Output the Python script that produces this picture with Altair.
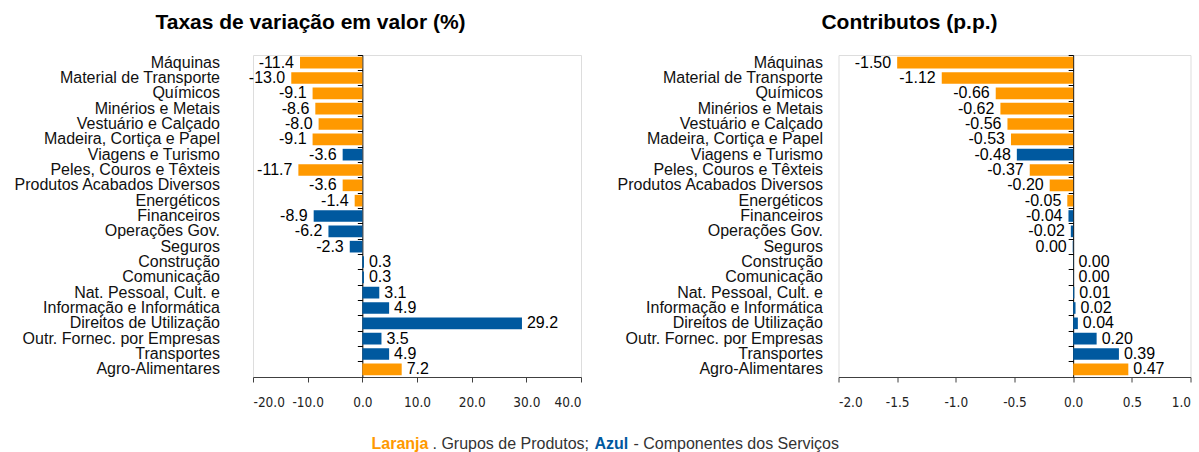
import altair as alt
import pandas as pd

categorias = [
    "Máquinas", "Material de Transporte", "Químicos", "Minérios e Metais",
    "Vestuário e Calçado", "Madeira, Cortiça e Papel", "Viagens e Turismo",
    "Peles, Couros e Têxteis", "Produtos Acabados Diversos", "Energéticos",
    "Financeiros", "Operações Gov.", "Seguros", "Construção", "Comunicação",
    "Nat. Pessoal, Cult. e", "Informação e Informática", "Direitos de Utilização",
    "Outr. Fornec. por Empresas", "Transportes", "Agro-Alimentares",
]
grupo = [
    "Produtos", "Produtos", "Produtos", "Produtos", "Produtos", "Produtos", "Serviços",
    "Produtos", "Produtos", "Produtos", "Serviços", "Serviços", "Serviços", "Serviços",
    "Serviços", "Serviços", "Serviços", "Serviços", "Serviços", "Serviços", "Produtos",
]
taxas = [-11.4, -13.0, -9.1, -8.6, -8.0, -9.1, -3.6, -11.7, -3.6, -1.4,
         -8.9, -6.2, -2.3, 0.3, 0.3, 3.1, 4.9, 29.2, 3.5, 4.9, 7.2]
contributos = [-1.50, -1.12, -0.66, -0.62, -0.56, -0.53, -0.48, -0.37, -0.20, -0.05,
               -0.04, -0.02, -0.004, 0.002, 0.002, 0.01, 0.02, 0.04, 0.20, 0.39, 0.47]
eixo_taxas = [-20, -10, 0, 10, 20, 30, 40]
eixo_contrib = [-2.0, -1.5, -1.0, -0.5, 0.0, 0.5, 1.0]
legenda_partes = ["Laranja", ". Grupos de Produtos;", "Azul", "- Componentes dos Serviços"]
titulos = ["Taxas de variação em valor (%)", "Contributos (p.p.)"]

df = pd.DataFrame({"cat": categorias, "tipo": grupo, "taxa": taxas, "contrib": contributos})

ORANGE = "#FF9900"
BLUE = "#00599F"
FONT = "Liberation Sans"
TICK_FONT = "DejaVu Sans Condensed"
H = 322


def panel(field, fmt, dom, ticks, width, title, title_dx, label_pad, extra=()):
    zero_offset = -(0 - dom[0]) / (dom[1] - dom[0]) * width
    x_enc = alt.X(
        f"{field}:Q",
        scale=alt.Scale(domain=dom, nice=False, zero=False),
        axis=alt.Axis(values=ticks, format=".1f", title=None, grid=False,
                      domainColor="#404040", tickColor="#404040", tickSize=5,
                      labelFont=TICK_FONT, labelFontSize=13.5, labelColor="#222222",
                      labelPadding=13, labelOverlap=False),
    )

    def y_enc(axis):
        return alt.Y("cat:N", sort=categorias,
                     scale=alt.Scale(paddingInner=0, paddingOuter=0), axis=axis)

    label_axis = alt.Axis(orient="left", title=None, domain=False, ticks=False,
                          labelPadding=label_pad, labelFont=FONT, labelFontSize=16,
                          labelColor="#111111", labelLimit=0, grid=False)
    zero_axis = alt.Axis(orient="left", title=None, labels=False, domain=True,
                         domainColor="black", ticks=True, tickColor="black",
                         tickSize=5, bandPosition=0, offset=zero_offset, grid=False)
    base = alt.Chart(df)
    bars = base.mark_bar(height={"band": 0.76}).encode(
        x=x_enc, y=y_enc(label_axis),
        color=alt.Color("tipo:N", scale=alt.Scale(domain=["Produtos", "Serviços"],
                                                  range=[ORANGE, BLUE]), legend=None),
    )
    zero = base.mark_point(opacity=0).encode(x=x_enc, y=y_enc(zero_axis))
    neg = base.transform_filter(f"datum.{field} < 0").mark_text(
        align="right", baseline="middle", dx=-6, font=FONT, fontSize=16, color="black"
    ).encode(x=x_enc, y=y_enc(None), text=alt.Text(f"{field}:Q", format=fmt))
    pos = base.transform_filter(f"datum.{field} >= 0").mark_text(
        align="left", baseline="middle", dx=5, font=FONT, fontSize=16, color="black"
    ).encode(x=x_enc, y=y_enc(None), text=alt.Text(f"{field}:Q", format=fmt))
    return alt.layer(bars, zero, neg, pos, *extra).resolve_axis(y="independent").properties(
        width=width, height=H,
        title=alt.TitleParams(title, font=FONT, fontSize=21, fontWeight="bold",
                              color="black", anchor="middle", frame="group",
                              dx=title_dx, offset=21),
    )


cap_x = [118.5, 179.5, 341.5, 380.5]
cap_col = [ORANGE, "#333333", BLUE, "#333333"]
cap_w = ["bold", "normal", "bold", "normal"]
caption = [
    alt.Chart(pd.DataFrame({"t": [p]})).mark_text(
        align="left", baseline="middle", font=FONT, fontSize=16,
        color=c, fontWeight=w
    ).encode(x=alt.value(x), y=alt.value(H + 67), text="t:N")
    for p, x, c, w in zip(legenda_partes, cap_x, cap_col, cap_w)
]

left = panel("taxa", ".1f", [-20, 40], eixo_taxas, 328, titulos[0], -106.5, 33.5, caption)
right = panel("contrib", ".2f", [-2.0, 1.0], eixo_contrib, 352, titulos[1], -105, 16)

chart = alt.hconcat(left, right, spacing=257.5, bounds="flush").properties(
    padding={"left": 12, "top": 11, "right": 0, "bottom": 0}
).configure_view(stroke=None).configure(
    background="white",
    locale={"number": {"decimal": ".", "thousands": ",", "grouping": [3],
                       "currency": ["$", ""], "minus": "-"}},
)

chart.save("out.html", embed_options={"renderer": "svg", "actions": False})
